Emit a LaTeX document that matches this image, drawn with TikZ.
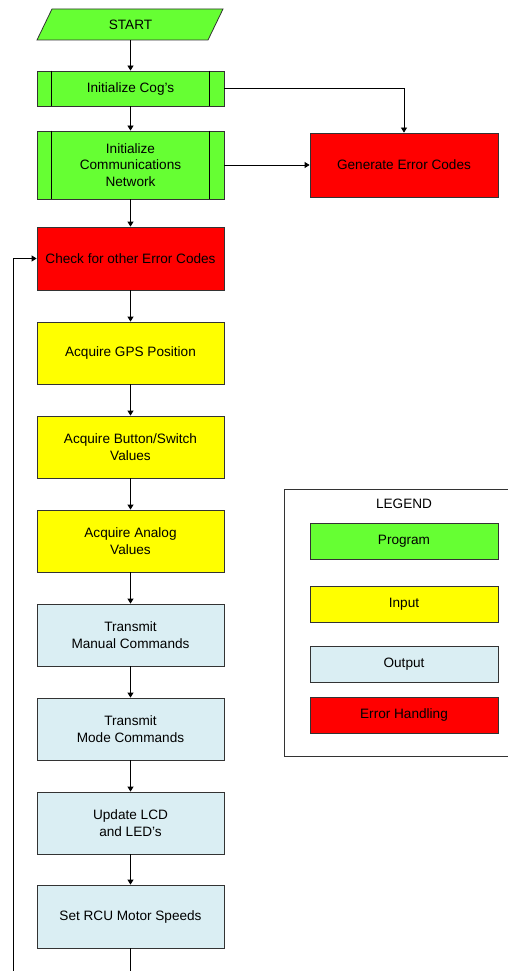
\documentclass[tikz,border=0pt]{standalone}
\usepackage{fontspec}
\setmainfont{Liberation Sans}
\usetikzlibrary{arrows.meta}
\definecolor{progclr}{HTML}{66FF33}
\definecolor{inclr}{HTML}{FFFF00}
\definecolor{outclr}{HTML}{DAEEF3}
\definecolor{errclr}{HTML}{FF0000}
\definecolor{edgeclr}{HTML}{333333}
\tikzset{
  box/.style={draw=edgeclr, line width=0.8pt, rectangle, minimum width=187pt,
    align=center, inner sep=2pt, font=\fontsize{13.6}{16.7}\selectfont},
  prog/.style={box, fill=progclr},
  inbox/.style={box, fill=inclr, minimum height=62pt},
  outbox/.style={box, fill=outclr, minimum height=62pt},
  errbox/.style={box, fill=errclr},
  legbox/.style={box, minimum width=188pt, minimum height=36pt},
  conn/.style={draw=black, line width=0.8pt},
  arr/.style={conn, -{Triangle[width=6pt,length=5pt]}},
  subbar/.style={draw=black, line width=0.8pt}
}
\begin{document}
\begin{tikzpicture}[x=1pt,y=-1pt]
\useasboundingbox (0,0) rectangle (508,971);
\clip (0,0) rectangle (508,971);

% start terminal (parallelogram)
\draw[edgeclr, line width=0.8pt, fill=progclr] (52,9) -- (223,9) -- (208,40) -- (37,40) -- cycle;
\node[font=\fontsize{13.6}{16.7}\selectfont, minimum height=31pt, inner sep=0pt] (start) at (130.5,24.5) {START};

% program blocks (predefined processes)
\node[prog, minimum height=35pt] (cog) at (130.5,88.5) {Initialize Cog's};
\node[prog, minimum height=68pt] (comm) at (130.5,165) {Initialize\\Communications\\Network};
\foreach \n in {cog,comm}{
  \draw[subbar] ([xshift=15pt]\n.north west) -- ([xshift=15pt]\n.south west);
  \draw[subbar] ([xshift=-15pt]\n.north east) -- ([xshift=-15pt]\n.south east);
}

% error handling
\node[errbox, minimum width=188pt, minimum height=64pt] (gen) at (404,165) {Generate Error Codes};
\node[errbox, minimum height=63pt] (check) at (130.5,258.5) {Check for other Error Codes};

% inputs
\node[inbox] (gps) at (130.5,353) {Acquire GPS Position};
\node[inbox] (btn) at (130.5,447) {Acquire Button/Switch\\Values};
\node[inbox] (ana) at (130.5,541) {Acquire Analog\\Values};

% outputs
\node[outbox] (man) at (130.5,635) {Transmit\\Manual Commands};
\node[outbox] (mode) at (130.5,729) {Transmit\\Mode Commands};
\node[outbox] (lcd) at (130.5,823) {Update LCD\\and LED's};
\node[outbox, minimum height=63pt] (rcu) at (130.5,916.5) {Set RCU Motor Speeds};

% loop ends running off the page
\coordinate (rcuend) at (130.5,975);
\coordinate (loopend) at (13,975);

% connectors
\draw[arr] (start.south) -- (cog.north);
\draw[arr] (cog.south) -- (comm.north);
\draw[arr] (cog.east) -| (gen.north);
\draw[arr] (comm.east) -- (gen.west);
\draw[arr] (comm.south) -- (check.north);
\draw[arr] (check.south) -- (gps.north);
\draw[arr] (gps.south) -- (btn.north);
\draw[arr] (btn.south) -- (ana.north);
\draw[arr] (ana.south) -- (man.north);
\draw[arr] (man.south) -- (mode.north);
\draw[arr] (mode.south) -- (lcd.north);
\draw[arr] (lcd.south) -- (rcu.north);
\draw[conn] (rcu.south) -- (rcuend);
\draw[arr] (loopend) |- (check.west);

% legend
\draw[edgeclr, line width=0.8pt] (284,489) rectangle (530,756);
\node[font=\fontsize{13.6}{16.7}\selectfont] (legtitle) at (404,504) {LEGEND};
\node[legbox, fill=progclr] (lprog) at (404,541) {Program};
\node[legbox, fill=inclr] (lin) at (404,604) {Input};
\node[legbox, fill=outclr] (lout) at (404,664) {Output};
\node[legbox, fill=errclr] (lerr) at (404,715) {Error Handling};
\end{tikzpicture}
\end{document}
